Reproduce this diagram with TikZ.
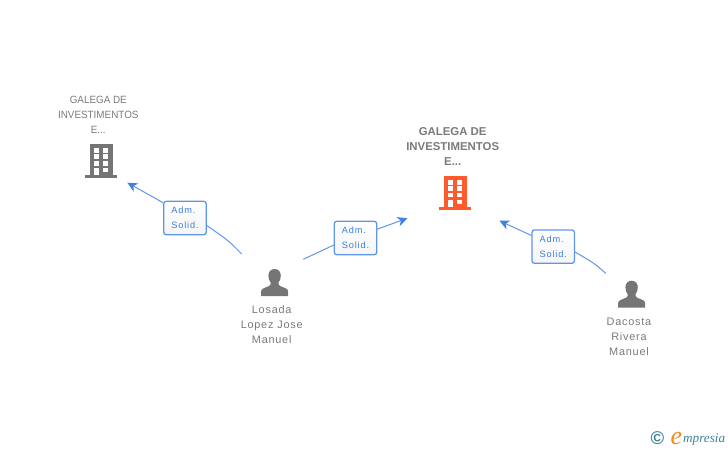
\documentclass[tikz,border=0pt]{standalone}
\usepackage{fontspec}
\setmainfont{Liberation Sans}
\newfontfamily\companyfont[FakeStretch=0.94]{Liberation Sans}
\newfontfamily\spacedfont[LetterSpace=7]{Liberation Sans}
\newfontfamily\tagfont[LetterSpace=9]{Liberation Sans}
\newfontfamily\logofont{Liberation Serif}
\usetikzlibrary{arrows.meta}
\definecolor{labelgray}{HTML}{7A7A7A}
\definecolor{icongray}{HTML}{757575}
\definecolor{iconorange}{HTML}{FF5A2C}
\definecolor{linkblue}{HTML}{5F97E8}
\definecolor{tagblue}{HTML}{3A7DE0}
\definecolor{tipblue}{HTML}{3F82E4}
\definecolor{logoteal}{HTML}{3D8299}
\definecolor{logoorange}{HTML}{F08A1D}
\tikzset{
  x=1pt,y=-1pt,
  company/.style={text=labelgray,align=center,inner sep=0pt,font=\fontsize{10.5}{15}\selectfont\companyfont},
  mainco/.style={text=labelgray,align=center,inner sep=0pt,font=\fontsize{11.4}{15}\selectfont\bfseries},
  person/.style={text=labelgray,align=center,inner sep=0pt,font=\fontsize{10.9}{15}\selectfont\spacedfont},
  tag/.style={draw=linkblue,line width=1.3pt,rounded corners=2.5pt,top color=white,bottom color=white!96!black,
    minimum width=42.4pt,minimum height=33.4pt,inner sep=0pt,text=tagblue,align=left,
    font=\fontsize{9.2}{15}\selectfont\tagfont},
  link/.style={draw=linkblue,line width=1pt},
  linkarrow/.style={link,-{Stealth[length=10pt,width=9.5pt,inset=3pt,color=tipblue]}},
  pics/building/.style={code={
    \fill[#1] (-11.3,0) rectangle (11.3,31);
    \fill[#1] (-16,31) rectangle (16,33.6);
    \foreach \wy in {4,10,16.7}{
      \fill[white] (-7.3,\wy) rectangle +(4.6,4.5);
      \fill[white] (2.2,\wy) rectangle +(4.8,4.5);
    }
    \fill[white] (2.2,23.4) rectangle +(4.8,4.5);
    \fill[white] (-7.3,23.4) rectangle (-2.7,31);
  }},
  pics/personicon/.style={code={
    \fill[icongray] (-13.5,27) -- (-13.5,22.5)
      .. controls (-13.5,19.5) and (-10,19) .. (-5.5,17)
      .. controls (-4,16) and (-3.6,14.8) .. (-4,13.5)
      .. controls (-5.6,11.5) and (-6.2,9) .. (-6.2,6.5)
      .. controls (-6.2,2.5) and (-3.5,0) .. (0,0)
      .. controls (3.5,0) and (6.2,2.5) .. (6.2,6.5)
      .. controls (6.2,9) and (5.6,11.5) .. (4,13.5)
      .. controls (3.6,14.8) and (4,16) .. (5.5,17)
      .. controls (10,19) and (13.5,19.5) .. (13.5,22.5)
      -- (13.5,27) -- cycle;
  }}
}
\begin{document}
\begin{tikzpicture}
\useasboundingbox (0,0) rectangle (728,450);

% icons
\pic at (101.2,144.3) {building=icongray};
\pic at (455.2,176.2) {building=iconorange};
\pic at (274.6,269) {personicon};
\pic at (631.6,280.7) {personicon};

% labels
\node[company] (co1) at (98.3,115) {GALEGA DE\\INVESTIMENTOS\\E...};
\node[mainco] (co2) at (452.7,146.7) {GALEGA DE\\INVESTIMENTOS\\E...};
\node[person] (p1) at (271.7,324.5) {Losada\\Lopez Jose\\Manuel};
\node[person] (p2) at (629,336.5) {Dacosta\\Rivera\\Manuel};

% role tags
\node[tag] (t1) at (185,218) {Adm.\\Solid.};
\node[tag] (t2) at (355.5,238) {Adm.\\Solid.};
\node[tag] (t3) at (553.2,246.6) {Adm.\\Solid.};

% connector ends
\coordinate (s1) at (241.7,254);
\coordinate (e1) at (127.3,182.7);
\coordinate (s2) at (303.3,259.3);
\coordinate (e2) at (407.5,218.2);
\coordinate (s3) at (605.7,273.3);
\coordinate (e3) at (499.3,220.7);

% connectors
\draw[link] (s1) .. controls (229,241) .. (t1.-19);
\draw[linkarrow] (t1.145) -- (e1);
\draw[link] (s2) -- (t2.198);
\draw[linkarrow] (t2.22) -- (e2);
\draw[link] (s3) .. controls (594,263) .. (t3.-14);
\draw[linkarrow] (t3.153) -- (e3);

% logo
\node[text=logoteal,inner sep=0pt,font=\fontsize{18.5}{18.5}\selectfont\bfseries] (copyr) at (657.5,438.5) {©};
\node[inner sep=0pt,anchor=base west,text=logoorange,font=\fontsize{26}{26}\selectfont\logofont\itshape] (logoe) at (670.5,444.5) {e};
\node[inner sep=0pt,anchor=base west,text=logoteal,font=\fontsize{13.2}{13.2}\selectfont\logofont\itshape] (logot) at (683,442.7) {mpresia};
\end{tikzpicture}
\end{document}
